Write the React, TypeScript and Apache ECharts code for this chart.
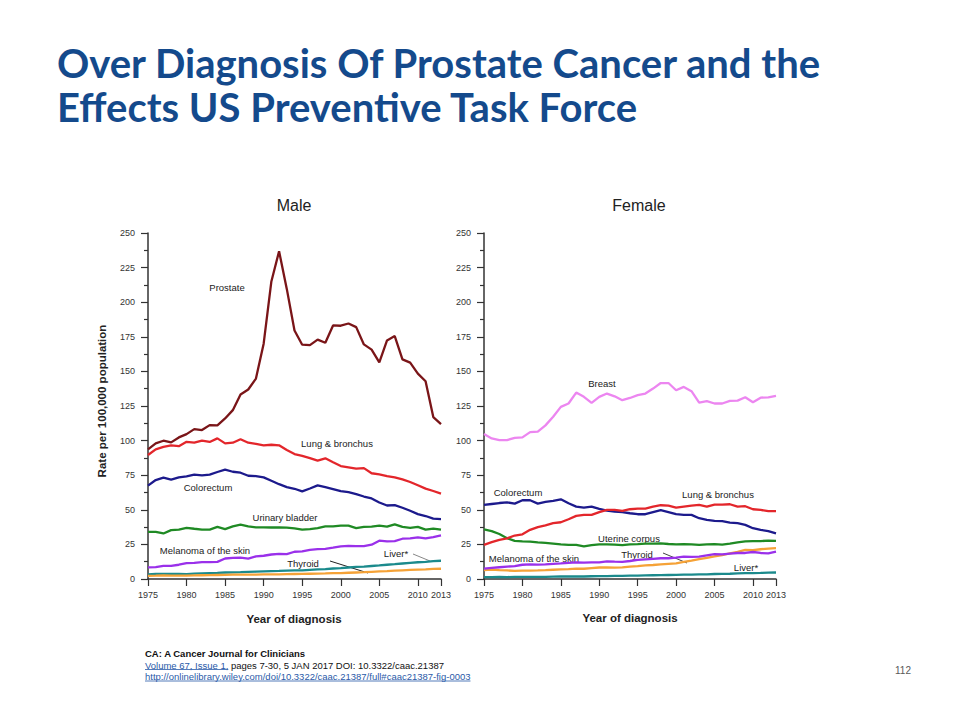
import React, { useEffect, useRef } from "react";
import * as echarts from "echarts";

const years = [1975,1976,1977,1978,1979,1980,1981,1982,1983,1984,1985,1986,1987,1988,1989,1990,1991,1992,1993,1994,1995,1996,1997,1998,1999,2000,2001,2002,2003,2004,2005,2006,2007,2008,2009,2010,2011,2012,2013];

const maleProstate = [93.7,98,99.9,98.7,102.3,104.7,108.3,107.6,111.2,111,116,122,133.3,136.9,144.8,170,215,236.8,209.6,179.6,169.3,169,173,170.7,183.2,183,184.6,182,169.5,165.7,156.5,172.4,175.5,158.7,156.3,148.4,142.9,117,111.9];
const maleLung = [89.6,93.7,95.5,96.5,96,99.1,98.6,100,99,101.6,98,98.5,101,98.5,97.6,96.6,97,96.6,93.2,90.3,89,87.4,85.5,87.2,84.3,81.6,80.7,79.7,80.1,76.4,75.6,74.4,73.5,72,70.1,67.7,65.3,63.6,61.7];
const maleColorectum = [67.5,71.5,73.2,71.8,73.4,74.2,75.4,74.9,75.4,77.3,79,77.5,76.8,74.6,74.4,73.4,71,68.5,66.4,65.2,63.3,65.4,67.6,66.4,65,63.5,62.7,61.3,59.6,58.2,55.3,53.1,53.4,51.5,49.3,46.9,45.5,43.6,43.3];
const maleBladder = [34.1,34,32.9,35.3,35.7,37,36.3,35.7,35.7,37.6,36.1,38,39.2,38,37.3,37.3,37.2,37.3,37.1,36.6,35.7,36.1,36.8,38,38,38.5,38.5,36.8,37.6,37.8,38.5,37.8,39.5,37.6,37,37.6,35.7,36.4,35.7];
const maleMelanoma = [8.4,8.6,9.5,9.5,10.3,11.5,11.7,12.2,12.2,12.4,14.8,15.3,15.5,14.8,16.3,16.8,17.7,18.2,18,19.7,19.9,21.1,21.6,21.8,22.6,23.6,24,23.8,23.8,24.8,27.7,27.2,27.4,29.1,29.3,30,29.3,30.3,31.5];
const maleLiver = [3.4,3.6,3.7,3.7,3.6,3.5,3.9,4.1,4.3,4.4,4.7,4.8,4.9,5.1,5.3,5.5,5.7,5.8,6,6.2,6.3,6.6,6.9,7.2,7.6,7.9,8.3,8.7,9,9.4,9.8,10.3,10.7,11.2,11.7,12.1,12.4,12.9,13.2];
const maleThyroid = [2.3,2.4,2.6,2.5,2.5,2.5,2.6,2.7,2.8,2.9,3,3.1,3.1,3.1,3.2,3.3,3.3,3.4,3.5,3.6,3.7,3.8,3.9,4,4.2,4.3,4.5,4.7,4.9,5.2,5.5,5.7,6,6.3,6.6,6.8,7,7.3,7.4];

const femaleBreast = [104.7,101.6,100.4,100.4,102,102.3,106.1,106.5,111,117.2,124.4,126.8,134.7,131.6,127.3,131.6,134,132,129.2,130.8,132.8,134,137.6,141.6,141.6,136.4,138.8,135.7,127.5,128.5,126.8,126.8,128.7,128.9,131.3,127.7,131,131.3,132.3];
const femaleColorectum = [53.5,54.2,54.9,55.4,54.5,56.9,56.9,54.5,55.7,56.4,57.6,54.7,52.3,51.6,52.3,50.6,49.4,48.7,48.3,47.5,46.8,46.8,48.3,49.7,48.3,46.8,46.3,46.3,43.9,42.7,42,41.8,40.8,40.3,39.1,36.7,35.5,34.6,33];
const femaleLung = [24.7,26.6,28.3,29.3,31.4,32.3,35.5,37.5,38.7,40.3,41,43.2,45.6,46.3,46.3,48.3,49.9,49.9,49.2,50.4,50.9,50.9,52.3,53.3,53,51.6,52.3,53,53.5,52.3,53.8,53.8,54,52.3,52.6,50.4,49.9,49,49];
const femaleUterine = [35.8,34.6,32.5,29.5,27.6,27.2,27,26.5,26.1,25.6,25,24.6,24.6,23.6,24.5,25,25,24.8,24.5,25,25.2,25.5,25.5,25.7,25.3,25,25.2,25,24.6,25,25.2,24.8,25.5,26.5,27.2,27.3,27.4,27.8,27.5];
const femaleMelanoma = [7.5,8,8.5,9,9.3,10.3,10.5,10.4,10.5,11,11.3,11.7,12,11.8,12,12,12.7,12.5,12.4,13,13.8,14.2,14.6,15,15,15.5,16.2,16,16.2,17.1,18,17.8,18.3,18.8,18.8,19.5,18.8,18.5,19.8];
const femaleThyroid = [6.5,6.8,6.4,6.2,5.8,6,6.1,6.2,6.4,6.7,7,7.2,7.5,7.4,7.9,8.3,8.3,8.2,8.4,8.9,9.3,9.8,10.1,10.5,10.9,11.3,12.3,13.3,14.4,15.2,16.3,17.3,18.5,19.6,21,20.8,21.5,22,22.3];
const femaleLiver = [1.4,1.4,1.5,1.4,1.5,1.6,1.6,1.5,1.6,1.7,1.8,1.8,1.9,1.8,2,2.1,2.1,2.2,2.3,2.4,2.4,2.6,2.7,2.8,2.9,3,3.1,3.2,3.3,3.4,3.6,3.7,3.8,4,4.2,4.3,4.4,4.6,4.7];

const yTicks = { min: 0, max: 250, interval: 25 };

const COLORS = {
  prostate: "#7a1518",
  lung: "#e3262b",
  colorectum: "#1c1a8c",
  green: "#1f8a24",
  melanoma: "#9a30ea",
  liver: "#1b8a8c",
  thyroid: "#f5a237",
  breast: "#ec86f0",
};

const maleSeries = [
  { name: "Liver*", data: maleLiver, color: COLORS.liver },
  { name: "Thyroid", data: maleThyroid, color: COLORS.thyroid },
  { name: "Melanoma of the skin", data: maleMelanoma, color: COLORS.melanoma },
  { name: "Urinary bladder", data: maleBladder, color: COLORS.green },
  { name: "Colorectum", data: maleColorectum, color: COLORS.colorectum },
  { name: "Lung & bronchus", data: maleLung, color: COLORS.lung },
  { name: "Prostate", data: maleProstate, color: COLORS.prostate },
];
const femaleSeries = [
  { name: "Liver*", data: femaleLiver, color: COLORS.liver },
  { name: "Thyroid", data: femaleThyroid, color: COLORS.thyroid },
  { name: "Melanoma of the skin", data: femaleMelanoma, color: COLORS.melanoma },
  { name: "Uterine corpus", data: femaleUterine, color: COLORS.green },
  { name: "Colorectum", data: femaleColorectum, color: COLORS.colorectum },
  { name: "Lung & bronchus", data: femaleLung, color: COLORS.lung },
  { name: "Breast", data: femaleBreast, color: COLORS.breast },
];

const TITLE1 = "Over Diagnosis Of Prostate Cancer and the";
const TITLE2 = "Effects US Preventive Task Force";
const FOOT1 = "CA: A Cancer Journal for Clinicians";
const FOOT2A = "Volume 67, Issue 1,";
const FOOT2B = " pages 7-30, 5 JAN 2017 DOI: 10.3322/caac.21387";
const FOOT3 = "http://onlinelibrary.wiley.com/doi/10.3322/caac.21387/full#caac21387-fig-0003";

function measure(text: string, font: string): number {
  const c = document.createElement("canvas");
  const ctx = c.getContext("2d");
  if (!ctx) return text.length * 6;
  ctx.font = font;
  return ctx.measureText(text).width;
}

const CHART_FONT = "Liberation Sans, Arial, sans-serif";

export default function App() {
  const ref = useRef<HTMLDivElement>(null);
  useEffect(() => {
    if (!ref.current) return;
    const chart = echarts.init(ref.current, undefined, { renderer: "svg" });

    const titleFamily = "Lato";
    const tW = measure(TITLE1, `bold 36px ${titleFamily}`);
    const titleSize = Math.min(40, (36 * 784) / tW);

    const footFamily = "Liberation Sans";
    const fW = measure(FOOT3, `9px ${footFamily}`);
    const footSize = (9 * 326) / fW;
    const foot2aW = measure(FOOT2A, `${footSize}px ${footFamily}`);
    const foot3W = measure(FOOT3, `${footSize}px ${footFamily}`);

    const lbl = (text: string, x: number, y: number) => ({
      type: "text",
      x,
      y,
      style: { text, fill: "#222", font: `9.5px ${CHART_FONT}`, align: "center", verticalAlign: "middle" },
    });
    const leader = (x1: number, y1: number, x2: number, y2: number, color: string) => ({
      type: "line",
      shape: { x1, y1, x2, y2 },
      style: { stroke: color, lineWidth: 1 },
    });

    const xAxisBase = (gridIndex: number) => ({
      gridIndex,
      type: "value",
      min: 1975,
      max: 2013,
      interval: 5,
      axisLine: { show: true, onZero: false, lineStyle: { color: "#333", width: 1.5 } },
      axisTick: { show: true, length: 7, lineStyle: { color: "#333", width: 1.2 } },
      axisLabel: { fontSize: 9, color: "#333", margin: 11, fontFamily: CHART_FONT, formatter: (v: number) => String(v), hideOverlap: false },
      splitLine: { show: false },
    });
    const yAxisBase = (gridIndex: number) => ({
      gridIndex,
      type: "value",
      min: yTicks.min,
      max: yTicks.max,
      interval: yTicks.interval,
      axisLine: { show: true, lineStyle: { color: "#333", width: 1.5 } },
      axisTick: { show: true, length: 7, lineStyle: { color: "#333", width: 1.2 } },
      minorTick: { show: true, splitNumber: 2, length: 4, lineStyle: { color: "#333", width: 1.2 } },
      axisLabel: { fontSize: 9, color: "#333", margin: 13, fontFamily: CHART_FONT },
      splitLine: { show: false },
      minorSplitLine: { show: false },
    });

    const mkSeries = (list: any[], idx: number) =>
      list.map((s) => ({
        name: s.name,
        type: "line",
        xAxisIndex: idx,
        yAxisIndex: idx,
        showSymbol: false,
        symbol: "none",
        silent: true,
        data: years.map((y, i) => [y, s.data[i]]),
        lineStyle: { color: s.color, width: 2.3 },
        itemStyle: { color: s.color },
      }));

    chart.setOption({
      animation: false,
      backgroundColor: "#ffffff",
      textStyle: { fontFamily: CHART_FONT },
      grid: [
        { left: 148, top: 233, width: 293, height: 346 },
        { left: 484, top: 233, width: 292, height: 346 },
      ],
      xAxis: [xAxisBase(0), xAxisBase(1)],
      yAxis: [yAxisBase(0), yAxisBase(1)],
      series: [...mkSeries(maleSeries, 0), ...mkSeries(femaleSeries, 1)],
      graphic: [
        // Title
        { type: "text", x: 57, y: 63, style: { text: TITLE1, fill: "#144a8c", font: `bold ${titleSize}px ${titleFamily}`, align: "left", verticalAlign: "middle" } },
        { type: "text", x: 57, y: 107, style: { text: TITLE2, fill: "#144a8c", font: `bold ${titleSize}px ${titleFamily}`, align: "left", verticalAlign: "middle" } },
        // Panel titles
        { type: "text", x: 294, y: 205, style: { text: "Male", fill: "#222", font: `16px ${CHART_FONT}`, align: "center", verticalAlign: "middle" } },
        { type: "text", x: 639, y: 205, style: { text: "Female", fill: "#222", font: `16px ${CHART_FONT}`, align: "center", verticalAlign: "middle" } },
        // Axis titles
        { type: "text", x: 102, y: 401, rotation: Math.PI / 2, style: { text: "Rate per 100,000 population", fill: "#222", font: `bold 11.5px ${CHART_FONT}`, align: "center", verticalAlign: "middle" } },
        { type: "text", x: 294, y: 619, style: { text: "Year of diagnosis", fill: "#222", font: `bold 11.5px ${CHART_FONT}`, align: "center", verticalAlign: "middle" } },
        { type: "text", x: 630, y: 618, style: { text: "Year of diagnosis", fill: "#222", font: `bold 11.5px ${CHART_FONT}`, align: "center", verticalAlign: "middle" } },
        // Male labels
        lbl("Prostate", 227, 287),
        lbl("Lung & bronchus", 337, 443),
        lbl("Colorectum", 208, 487),
        lbl("Urinary bladder", 285, 517),
        lbl("Melanoma of the skin", 205, 550),
        lbl("Liver*", 396, 553),
        lbl("Thyroid", 303, 563),
        leader(330, 561, 368, 573, "#222"),
        leader(413, 554, 430, 561, "#888"),
        // Female labels
        lbl("Breast", 602, 383),
        lbl("Colorectum", 518, 492),
        lbl("Lung & bronchus", 718, 494),
        lbl("Uterine corpus", 629, 538),
        lbl("Melanoma of the skin", 534, 558),
        lbl("Thyroid", 637, 554),
        lbl("Liver*", 746, 567),
        leader(663, 553, 687, 563, "#444"),
        // Footer
        { type: "text", x: 145, y: 653, style: { text: FOOT1, fill: "#111", font: `bold ${footSize}px ${footFamily}`, align: "left", verticalAlign: "middle" } },
        { type: "text", x: 145, y: 665, style: { text: FOOT2A, fill: "#2a5aa8", font: `${footSize}px ${footFamily}`, align: "left", verticalAlign: "middle" } },
        { type: "line", shape: { x1: 145, y1: 669.5, x2: 145 + foot2aW, y2: 669.5 }, style: { stroke: "#2a5aa8", lineWidth: 0.8 } },
        { type: "text", x: 145 + foot2aW, y: 665, style: { text: FOOT2B, fill: "#111", font: `${footSize}px ${footFamily}`, align: "left", verticalAlign: "middle" } },
        { type: "text", x: 145, y: 676.5, style: { text: FOOT3, fill: "#2a5aa8", font: `${footSize}px ${footFamily}`, align: "left", verticalAlign: "middle" } },
        { type: "line", shape: { x1: 145, y1: 681, x2: 145 + foot3W, y2: 681 }, style: { stroke: "#2a5aa8", lineWidth: 0.8 } },
        // Page number
        { type: "text", x: 903, y: 670, style: { text: "112", fill: "#595959", font: `10px ${CHART_FONT}`, align: "center", verticalAlign: "middle" } },
      ],
    });
    return () => chart.dispose();
  }, []);
  return <div ref={ref} style={{ position: "absolute", left: 0, top: 0, width: 960, height: 720 }} />;
}
